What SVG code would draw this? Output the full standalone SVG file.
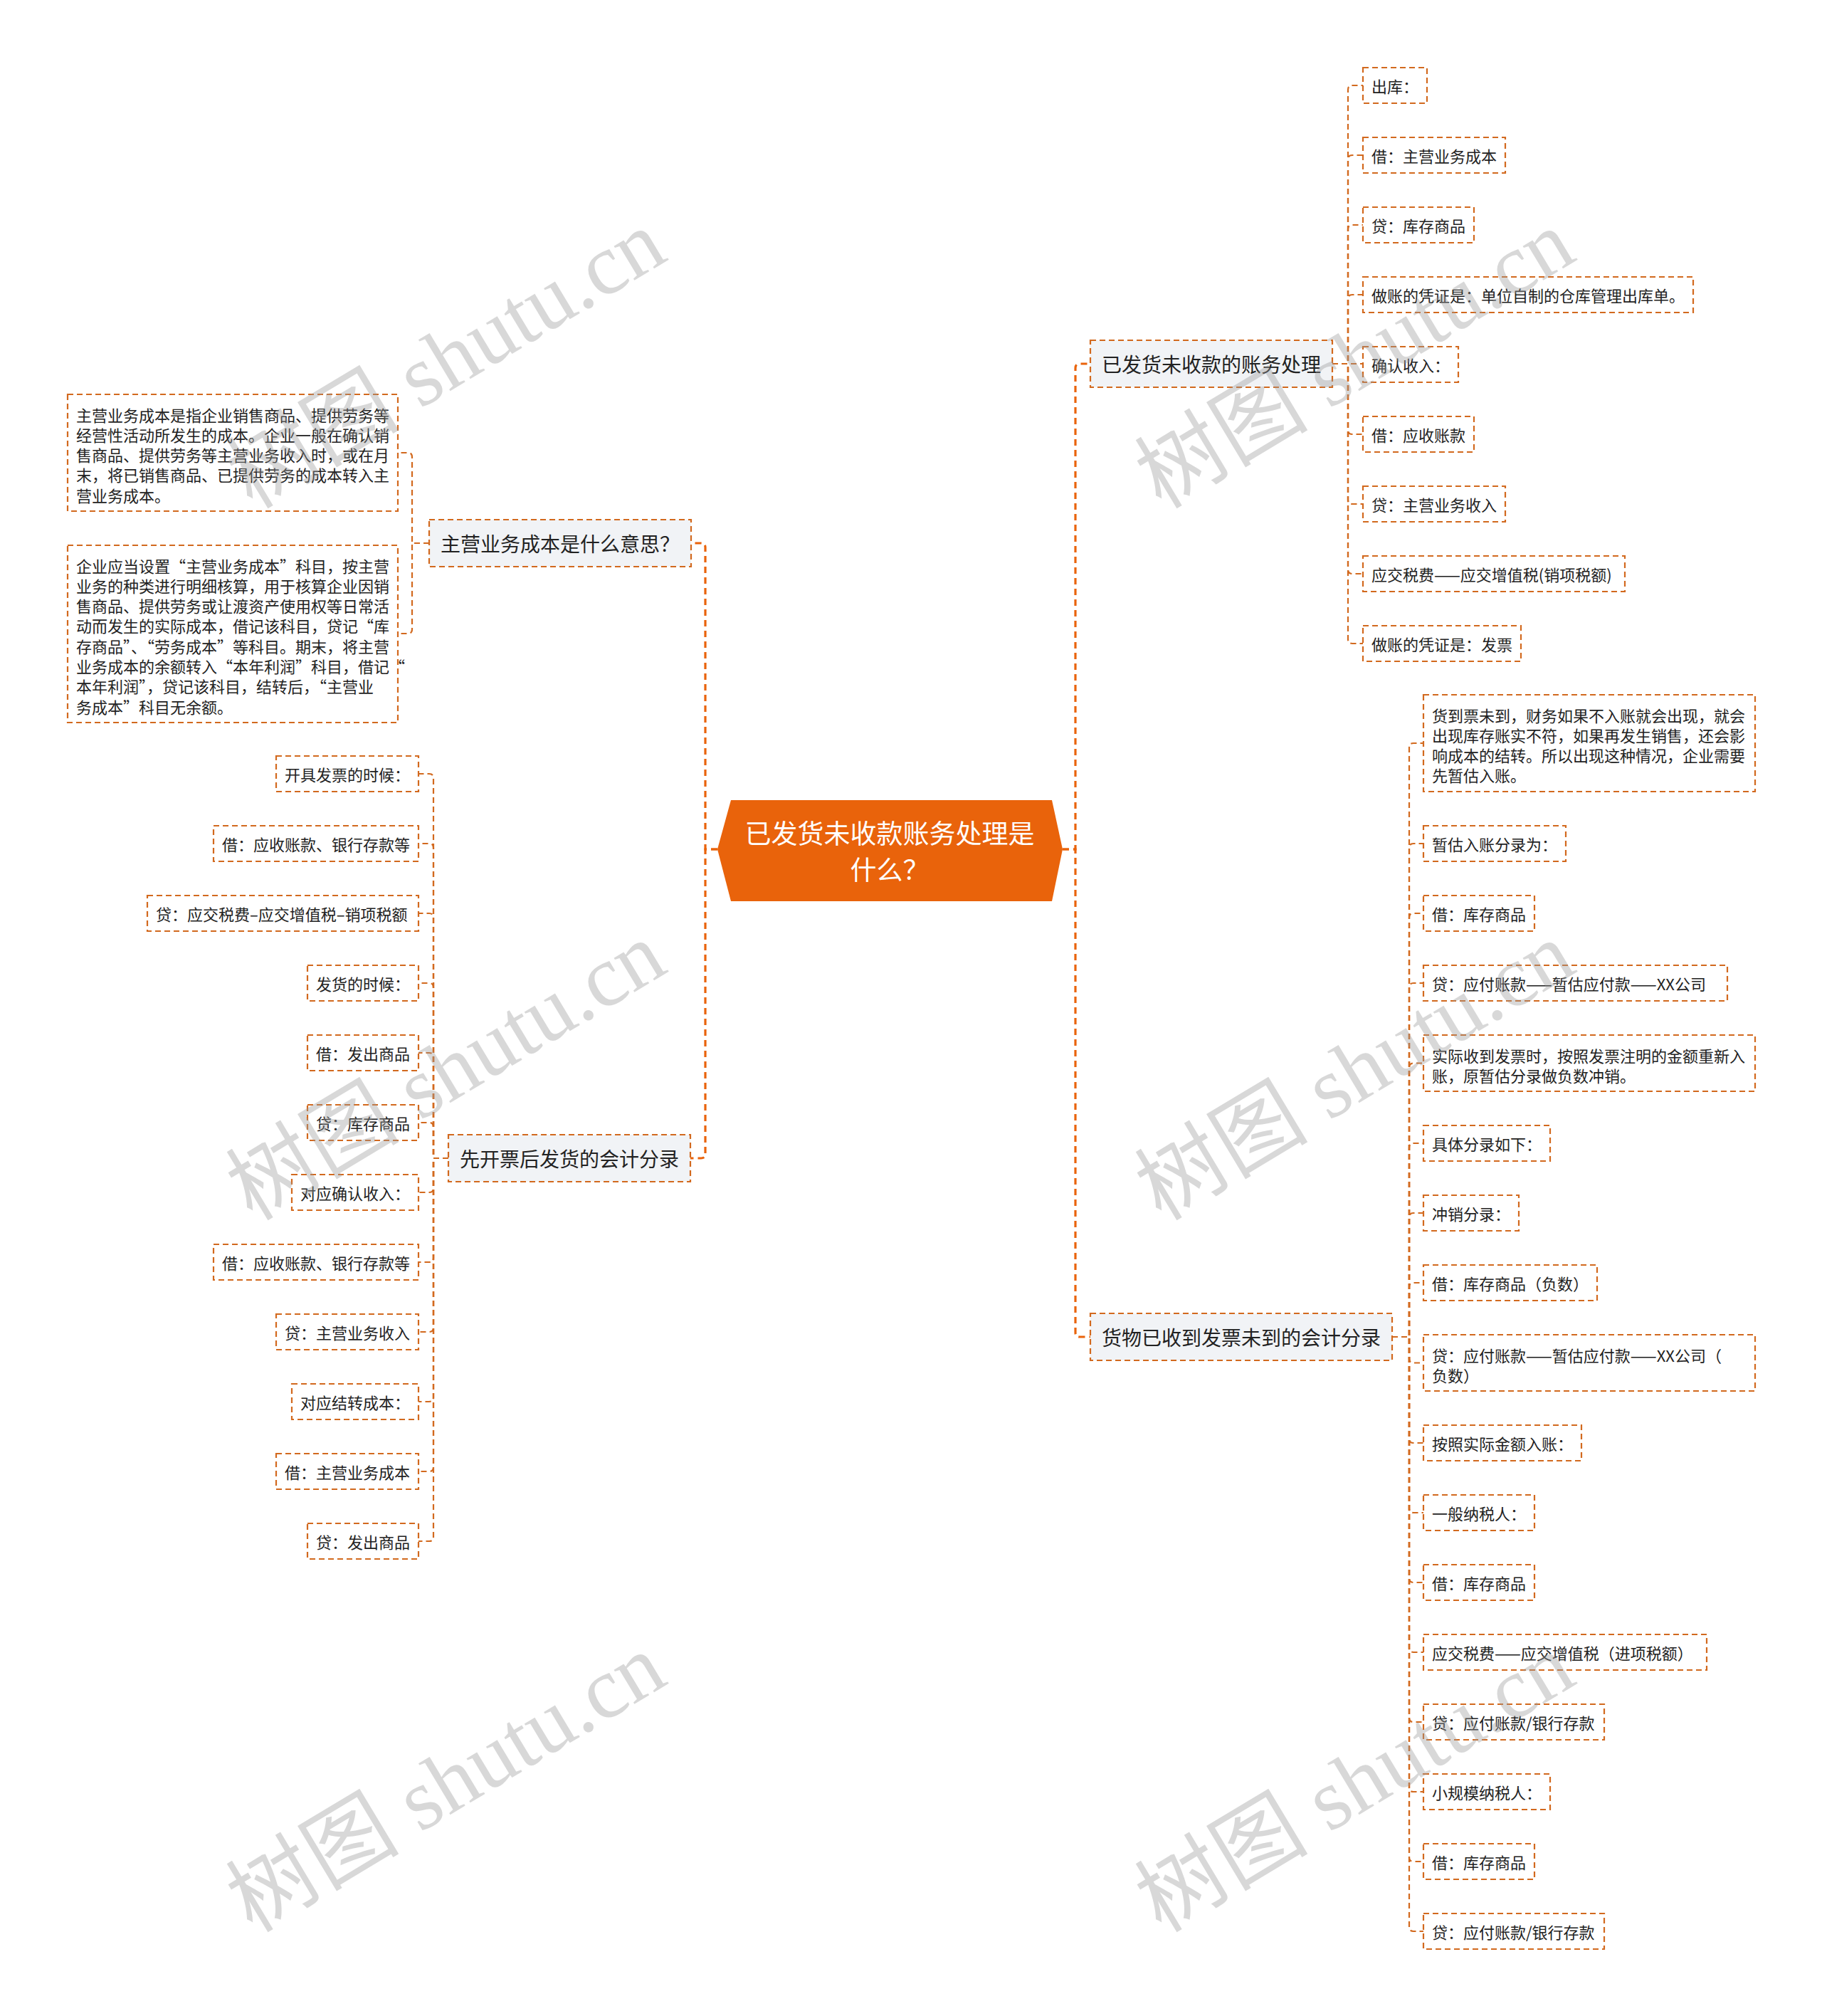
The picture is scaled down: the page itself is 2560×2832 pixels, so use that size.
<svg xmlns="http://www.w3.org/2000/svg" width="2560" height="2832" viewBox="0 0 2560 2832">
<style>
.bg{fill:#ffffff}
.n1{fill:#F1F3F6;stroke:#D2691E;stroke-width:2.2;stroke-dasharray:8 5}
.n2{fill:#ffffff;stroke:#D2691E;stroke-width:2.2;stroke-dasharray:8 5}
.t{font-family:"Noto Sans CJK SC","Noto Sans",sans-serif;fill:#222;dominant-baseline:central}
.s22{font-size:22px}
.s28{font-size:28px}
.root{fill:#E9630B}
.rt{font-family:"Noto Sans CJK SC","Noto Sans",sans-serif;font-size:37px;fill:#ffffff;dominant-baseline:central;text-anchor:middle}
.cm{fill:none;stroke:#E9630B;stroke-width:3.2;stroke-dasharray:9 6}
.cs{fill:none;stroke:#D2691E;stroke-width:2.2;stroke-dasharray:8 5}
.wm{font-size:122px;fill:#9a9a9a;opacity:0.38;text-anchor:middle}
</style>
<rect class="bg" x="0" y="0" width="2560" height="2832"/>

<g id="connectors">
<path class="cm" d="M1008,1193 H991 V769 Q991,763 985,763 H971"/>
<path class="cm" d="M1008,1193 H991 V1621 Q991,1627 985,1627 H970"/>
<path class="cm" d="M1493,1193 H1511 V517 Q1511,511 1517,511 H1532"/>
<path class="cm" d="M1493,1193 H1511 V1872 Q1511,1878 1517,1878 H1532"/>
<!-- group A -->
<path class="cs" d="M1872,511 H1894 V126 Q1894,120 1900,120 H1915"/>
<path class="cs" d="M1872,511 H1894 V224 Q1894,218 1900,218 H1915"/>
<path class="cs" d="M1872,511 H1894 V322 Q1894,316 1900,316 H1915"/>
<path class="cs" d="M1872,511 H1894 V420 Q1894,414 1900,414 H1915"/>
<path class="cs" d="M1872,511 H1915"/>
<path class="cs" d="M1872,511 H1894 V604 Q1894,610 1900,610 H1915"/>
<path class="cs" d="M1872,511 H1894 V702 Q1894,708 1900,708 H1915"/>
<path class="cs" d="M1872,511 H1894 V800 Q1894,806 1900,806 H1915"/>
<path class="cs" d="M1872,511 H1894 V898 Q1894,904 1900,904 H1915"/>
<!-- group B -->
<path class="cs" d="M603,763 H579 V642 Q579,636 573,636 H559"/>
<path class="cs" d="M603,763 H579 V884 Q579,890 573,890 H559"/>
<!-- group C -->
<path class="cs" d="M630,1627 H609 V1093 Q609,1087 603,1087 H588"/>
<path class="cs" d="M630,1627 H609 V1191 Q609,1185 603,1185 H588"/>
<path class="cs" d="M630,1627 H609 V1289 Q609,1283 603,1283 H588"/>
<path class="cs" d="M630,1627 H609 V1387 Q609,1381 603,1381 H588"/>
<path class="cs" d="M630,1627 H609 V1485 Q609,1479 603,1479 H588"/>
<path class="cs" d="M630,1627 H609 V1583 Q609,1577 603,1577 H588"/>
<path class="cs" d="M630,1627 H609 V1669 Q609,1675 603,1675 H588"/>
<path class="cs" d="M630,1627 H609 V1767 Q609,1773 603,1773 H588"/>
<path class="cs" d="M630,1627 H609 V1865 Q609,1871 603,1871 H588"/>
<path class="cs" d="M630,1627 H609 V1963 Q609,1969 603,1969 H588"/>
<path class="cs" d="M630,1627 H609 V2061 Q609,2067 603,2067 H588"/>
<path class="cs" d="M630,1627 H609 V2159 Q609,2165 603,2165 H588"/>
<!-- group D -->
<path class="cs" d="M1956,1878 H1980 V1050 Q1980,1044 1986,1044 H2000"/>
<path class="cs" d="M1956,1878 H1980 V1191 Q1980,1185 1986,1185 H2000"/>
<path class="cs" d="M1956,1878 H1980 V1289 Q1980,1283 1986,1283 H2000"/>
<path class="cs" d="M1956,1878 H1980 V1387 Q1980,1381 1986,1381 H2000"/>
<path class="cs" d="M1956,1878 H1980 V1499.5 Q1980,1493.5 1986,1493.5 H2000"/>
<path class="cs" d="M1956,1878 H1980 V1612 Q1980,1606 1986,1606 H2000"/>
<path class="cs" d="M1956,1878 H1980 V1710 Q1980,1704 1986,1704 H2000"/>
<path class="cs" d="M1956,1878 H1980 V1808 Q1980,1802 1986,1802 H2000"/>
<path class="cs" d="M1956,1878 H1980 V1908.5 Q1980,1914.5 1986,1914.5 H2000"/>
<path class="cs" d="M1956,1878 H1980 V2021 Q1980,2027 1986,2027 H2000"/>
<path class="cs" d="M1956,1878 H1980 V2119 Q1980,2125 1986,2125 H2000"/>
<path class="cs" d="M1956,1878 H1980 V2217 Q1980,2223 1986,2223 H2000"/>
<path class="cs" d="M1956,1878 H1980 V2315 Q1980,2321 1986,2321 H2000"/>
<path class="cs" d="M1956,1878 H1980 V2413 Q1980,2419 1986,2419 H2000"/>
<path class="cs" d="M1956,1878 H1980 V2511 Q1980,2517 1986,2517 H2000"/>
<path class="cs" d="M1956,1878 H1980 V2609 Q1980,2615 1986,2615 H2000"/>
<path class="cs" d="M1956,1878 H1980 V2707 Q1980,2713 1986,2713 H2000"/>
</g>

<g id="root">
<polygon class="root" points="1008,1193 1027,1124 1478,1124 1493,1193 1478,1266 1027,1266"/>
<text class="rt"><tspan x="1250" y="1169">已发货未收款账务处理是</tspan><tspan x="1250" y="1220">什么？</tspan></text>
</g>

<g id="b1"><rect class="n1" x="1532" y="478" width="340" height="66"/><text class="t s28" x="1548" y="511">已发货未收款的账务处理</text></g>
<g id="b2"><rect class="n1" x="603" y="730" width="368" height="66"/><text class="t s28" x="619" y="763">主营业务成本是什么意思？</text></g>
<g id="b3"><rect class="n1" x="630" y="1594" width="340" height="66"/><text class="t s28" x="646" y="1627">先开票后发货的会计分录</text></g>
<g id="b4"><rect class="n1" x="1532" y="1845" width="424" height="66"/><text class="t s28" x="1548" y="1878">货物已收到发票未到的会计分录</text></g>

<g id="a1"><rect class="n2" x="1915" y="95" width="90" height="50"/><text class="t s22" x="1927" y="120">出库：</text></g>
<g id="a2"><rect class="n2" x="1915" y="193" width="200" height="50"/><text class="t s22" x="1927" y="218">借：主营业务成本</text></g>
<g id="a3"><rect class="n2" x="1915" y="291" width="156" height="50"/><text class="t s22" x="1927" y="316">贷：库存商品</text></g>
<g id="a4"><rect class="n2" x="1915" y="389" width="464" height="50"/><text class="t s22" x="1927" y="414">做账的凭证是：单位自制的仓库管理出库单。</text></g>
<g id="a5"><rect class="n2" x="1915" y="487" width="134" height="50"/><text class="t s22" x="1927" y="512">确认收入：</text></g>
<g id="a6"><rect class="n2" x="1915" y="585" width="156" height="50"/><text class="t s22" x="1927" y="610">借：应收账款</text></g>
<g id="a7"><rect class="n2" x="1915" y="683" width="200" height="50"/><text class="t s22" x="1927" y="708">贷：主营业务收入</text></g>
<g id="a8"><rect class="n2" x="1915" y="781" width="368" height="50"/><text class="t s22" x="1927" y="806">应交税费——应交增值税(销项税额)</text></g>
<g id="a9"><rect class="n2" x="1915" y="879" width="222" height="50"/><text class="t s22" x="1927" y="904">做账的凭证是：发票</text></g>

<g id="p1"><rect class="n2" x="95" y="554" width="464" height="164"/>
<text class="t s22"><tspan x="107" y="581.5">主营业务成本是指企业销售商品、提供劳务等</tspan><tspan x="107" y="609.8">经营性活动所发生的成本。企业一般在确认销</tspan><tspan x="107" y="638.1">售商品、提供劳务等主营业务收入时，或在月</tspan><tspan x="107" y="666.4">末，将已销售商品、已提供劳务的成本转入主</tspan><tspan x="107" y="694.7">营业务成本。</tspan></text></g>
<g id="p2"><rect class="n2" x="95" y="766" width="464" height="249"/>
<text class="t s22"><tspan x="107" y="793.5">企业应当设置“主营业务成本”科目，按主营</tspan><tspan x="107" y="821.8">业务的种类进行明细核算，用于核算企业因销</tspan><tspan x="107" y="850.1">售商品、提供劳务或让渡资产使用权等日常活</tspan><tspan x="107" y="878.4">动而发生的实际成本，借记该科目，贷记“库</tspan><tspan x="107" y="906.7">存商品”、“劳务成本”等科目。期末，将主营</tspan><tspan x="107" y="935">业务成本的余额转入“本年利润”科目，借记“</tspan><tspan x="107" y="963.3">本年利润”，贷记该科目，结转后，“主营业</tspan><tspan x="107" y="991.6">务成本”科目无余额。</tspan></text></g>

<g id="c1"><rect class="n2" x="388" y="1062" width="200" height="50"/><text class="t s22" x="400" y="1087">开具发票的时候：</text></g>
<g id="c2"><rect class="n2" x="300" y="1160" width="288" height="50"/><text class="t s22" x="312" y="1185">借：应收账款、银行存款等</text></g>
<g id="c3"><rect class="n2" x="207" y="1258" width="381" height="50"/><text class="t s22" x="219" y="1283">贷：应交税费–应交增值税–销项税额</text></g>
<g id="c4"><rect class="n2" x="432" y="1356" width="156" height="50"/><text class="t s22" x="444" y="1381">发货的时候：</text></g>
<g id="c5"><rect class="n2" x="432" y="1454" width="156" height="50"/><text class="t s22" x="444" y="1479">借：发出商品</text></g>
<g id="c6"><rect class="n2" x="432" y="1552" width="156" height="50"/><text class="t s22" x="444" y="1577">贷：库存商品</text></g>
<g id="c7"><rect class="n2" x="410" y="1650" width="178" height="50"/><text class="t s22" x="422" y="1675">对应确认收入：</text></g>
<g id="c8"><rect class="n2" x="300" y="1748" width="288" height="50"/><text class="t s22" x="312" y="1773">借：应收账款、银行存款等</text></g>
<g id="c9"><rect class="n2" x="388" y="1846" width="200" height="50"/><text class="t s22" x="400" y="1871">贷：主营业务收入</text></g>
<g id="c10"><rect class="n2" x="410" y="1944" width="178" height="50"/><text class="t s22" x="422" y="1969">对应结转成本：</text></g>
<g id="c11"><rect class="n2" x="388" y="2042" width="200" height="50"/><text class="t s22" x="400" y="2067">借：主营业务成本</text></g>
<g id="c12"><rect class="n2" x="432" y="2140" width="156" height="50"/><text class="t s22" x="444" y="2165">贷：发出商品</text></g>

<g id="d1"><rect class="n2" x="2000" y="976" width="466" height="136"/>
<text class="t s22"><tspan x="2012" y="1003.5">货到票未到，财务如果不入账就会出现，就会</tspan><tspan x="2012" y="1031.8">出现库存账实不符，如果再发生销售，还会影</tspan><tspan x="2012" y="1060.1">响成本的结转。所以出现这种情况，企业需要</tspan><tspan x="2012" y="1088.4">先暂估入账。</tspan></text></g>
<g id="d2"><rect class="n2" x="2000" y="1160" width="200" height="50"/><text class="t s22" x="2012" y="1185">暂估入账分录为：</text></g>
<g id="d3"><rect class="n2" x="2000" y="1258" width="156" height="50"/><text class="t s22" x="2012" y="1283">借：库存商品</text></g>
<g id="d4"><rect class="n2" x="2000" y="1356" width="427" height="50"/><text class="t s22" x="2012" y="1381">贷：应付账款——暂估应付款——XX公司</text></g>
<g id="d5"><rect class="n2" x="2000" y="1454" width="466" height="79"/>
<text class="t s22"><tspan x="2012" y="1481.5">实际收到发票时，按照发票注明的金额重新入</tspan><tspan x="2012" y="1509.8">账，原暂估分录做负数冲销。</tspan></text></g>
<g id="d6"><rect class="n2" x="2000" y="1581" width="178" height="50"/><text class="t s22" x="2012" y="1606">具体分录如下：</text></g>
<g id="d7"><rect class="n2" x="2000" y="1679" width="134" height="50"/><text class="t s22" x="2012" y="1704">冲销分录：</text></g>
<g id="d8"><rect class="n2" x="2000" y="1777" width="244" height="50"/><text class="t s22" x="2012" y="1802">借：库存商品（负数）</text></g>
<g id="d9"><rect class="n2" x="2000" y="1875" width="466" height="79"/>
<text class="t s22"><tspan x="2012" y="1902.5">贷：应付账款——暂估应付款——XX公司（</tspan><tspan x="2012" y="1930.8">负数）</tspan></text></g>
<g id="d10"><rect class="n2" x="2000" y="2002" width="222" height="50"/><text class="t s22" x="2012" y="2027">按照实际金额入账：</text></g>
<g id="d11"><rect class="n2" x="2000" y="2100" width="156" height="50"/><text class="t s22" x="2012" y="2125">一般纳税人：</text></g>
<g id="d12"><rect class="n2" x="2000" y="2198" width="156" height="50"/><text class="t s22" x="2012" y="2223">借：库存商品</text></g>
<g id="d13"><rect class="n2" x="2000" y="2296" width="398" height="50"/><text class="t s22" x="2012" y="2321">应交税费——应交增值税（进项税额）</text></g>
<g id="d14"><rect class="n2" x="2000" y="2394" width="254" height="50"/><text class="t s22" x="2012" y="2419">贷：应付账款/银行存款</text></g>
<g id="d15"><rect class="n2" x="2000" y="2492" width="178" height="50"/><text class="t s22" x="2012" y="2517">小规模纳税人：</text></g>
<g id="d16"><rect class="n2" x="2000" y="2590" width="156" height="50"/><text class="t s22" x="2012" y="2615">借：库存商品</text></g>
<g id="d17"><rect class="n2" x="2000" y="2688" width="254" height="50"/><text class="t s22" x="2012" y="2713">贷：应付账款/银行存款</text></g>

<g id="watermarks" font-family="'Liberation Serif','Noto Sans CJK SC',serif">
<text class="wm" transform="translate(648,540) rotate(-31)">树图 shutu.cn</text>
<text class="wm" transform="translate(1925,540) rotate(-31)">树图 shutu.cn</text>
<text class="wm" transform="translate(648,1540) rotate(-31)">树图 shutu.cn</text>
<text class="wm" transform="translate(1925,1540) rotate(-31)">树图 shutu.cn</text>
<text class="wm" transform="translate(648,2540) rotate(-31)">树图 shutu.cn</text>
<text class="wm" transform="translate(1925,2540) rotate(-31)">树图 shutu.cn</text>
</g>
</svg>
